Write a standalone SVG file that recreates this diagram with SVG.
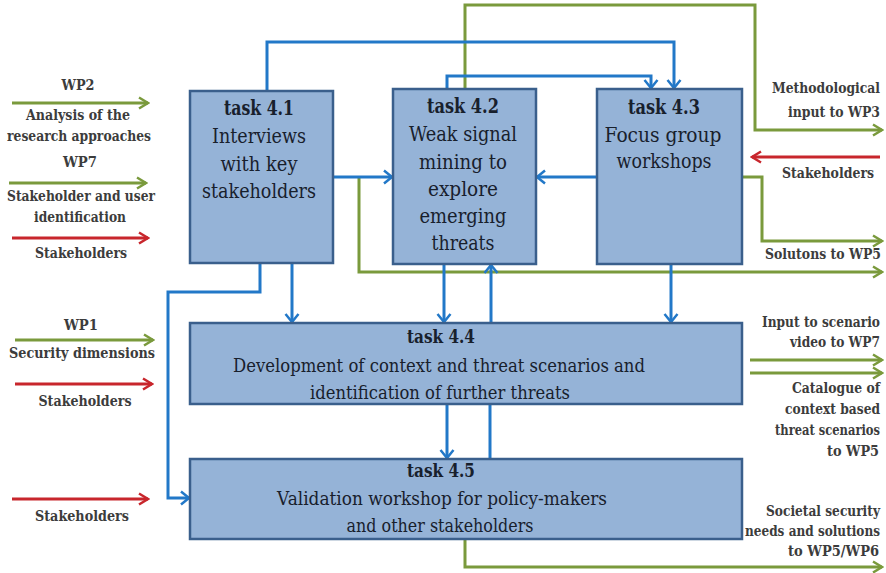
<svg xmlns="http://www.w3.org/2000/svg" width="886" height="573" viewBox="0 0 886 573">
  <style>
    .box { fill: #95b3d7; stroke: #3a5f8c; stroke-width: 2.5; }
    text { font-family: "DejaVu Serif", serif; }
    .bt { font-size: 20px; fill: #18202c; text-anchor: middle; }
    .bt2 { font-size: 19px; fill: #18202c; text-anchor: middle; }
    .tt { font-weight: bold; }
    .lbl { font-size: 15px; font-weight: bold; fill: #3c3c3c; }
    .mid { text-anchor: middle; }
    .end { text-anchor: end; }
    .blue { fill: none; stroke: #2278c8; stroke-width: 3; }
    .green { fill: none; stroke: #7a9a3c; stroke-width: 3; }
    .red { fill: none; stroke: #c8262c; stroke-width: 3; }
  </style>
  <defs>
    <marker id="ab" viewBox="-11 -8 13 16" refX="0" refY="0" markerWidth="13" markerHeight="16" markerUnits="userSpaceOnUse" orient="auto">
      <path d="M-8,-6.5 L0,0 L-8,6.5" fill="none" stroke="#2278c8" stroke-width="2.5"/>
    </marker>
    <marker id="ag" viewBox="-11 -8 13 16" refX="0" refY="0" markerWidth="13" markerHeight="16" markerUnits="userSpaceOnUse" orient="auto">
      <path d="M-9,-5.5 L0,0 L-9,5.5" fill="none" stroke="#7a9a3c" stroke-width="2.5"/>
    </marker>
    <marker id="ar" viewBox="-11 -8 13 16" refX="0" refY="0" markerWidth="13" markerHeight="16" markerUnits="userSpaceOnUse" orient="auto">
      <path d="M-9,-5.5 L0,0 L-9,5.5" fill="none" stroke="#c8262c" stroke-width="2.5"/>
    </marker>
  </defs>

  <rect width="886" height="573" fill="#ffffff"/>

  <!-- connectors -->
  <g id="connectors">
    <!-- green outputs -->
    <path class="green" d="M465,89 V5 H755 V130 H882" marker-end="url(#ag)"/>
    <path class="green" d="M359,177 V272 H882" marker-end="url(#ag)"/>
    <path class="green" d="M742,177 H762 V241 H882" marker-end="url(#ag)"/>
    <path class="green" d="M465,539 V567 H882" marker-end="url(#ag)"/>
    <path class="green" d="M750,360 H882" marker-end="url(#ag)"/>
    <path class="green" d="M750,373 H882" marker-end="url(#ag)"/>
    <!-- green inputs -->
    <path class="green" d="M12,103 H148" marker-end="url(#ag)"/>
    <path class="green" d="M9,183 H146" marker-end="url(#ag)"/>
    <path class="green" d="M15,340 H153" marker-end="url(#ag)"/>
    <!-- red stakeholder inputs -->
    <path class="red" d="M12,238 H148" marker-end="url(#ar)"/>
    <path class="red" d="M15,384 H152" marker-end="url(#ar)"/>
    <path class="red" d="M12,499 H148" marker-end="url(#ar)"/>
    <path class="red" d="M880,157 H752" marker-end="url(#ar)"/>
    <!-- blue task links -->
    <path class="blue" d="M267,91 V42 H674 V88" marker-end="url(#ab)"/>
    <path class="blue" d="M447,89 V76 H651 V88" marker-end="url(#ab)"/>
    <path class="blue" d="M333,177 H392" marker-end="url(#ab)"/>
    <path class="blue" d="M597,177 H537" marker-end="url(#ab)"/>
    <path class="blue" d="M260,263 V292 H168 V498 H189" marker-end="url(#ab)"/>
    <path class="blue" d="M292,263 V322" marker-end="url(#ab)"/>
    <path class="blue" d="M444,264 V322" marker-end="url(#ab)"/>
    <path class="blue" d="M491,323 V265" marker-end="url(#ab)"/>
    <path class="blue" d="M671,264 V322" marker-end="url(#ab)"/>
    <path class="blue" d="M447,404 V458" marker-end="url(#ab)"/>
    <path class="blue" d="M490,459 V404"/>
  </g>

  <g id="tasks">
    <g id="task41">
      <rect class="box" x="190" y="91" width="143" height="172"/>
      <text class="bt tt" x="259" y="115" textLength="70" lengthAdjust="spacingAndGlyphs">task 4.1</text>
      <text class="bt" x="259" y="143" textLength="94" lengthAdjust="spacingAndGlyphs">Interviews</text>
      <text class="bt" x="259" y="171" textLength="77" lengthAdjust="spacingAndGlyphs">with key</text>
      <text class="bt" x="259" y="198" textLength="114" lengthAdjust="spacingAndGlyphs">stakeholders</text>
    </g>
    <g id="task42">
      <rect class="box" x="393" y="89" width="143" height="175"/>
      <text class="bt tt" x="463" y="113" textLength="72" lengthAdjust="spacingAndGlyphs">task 4.2</text>
      <text class="bt" x="463" y="141" textLength="108" lengthAdjust="spacingAndGlyphs">Weak signal</text>
      <text class="bt" x="463" y="169" textLength="88" lengthAdjust="spacingAndGlyphs">mining to</text>
      <text class="bt" x="463" y="196" textLength="70" lengthAdjust="spacingAndGlyphs">explore</text>
      <text class="bt" x="463" y="223" textLength="87" lengthAdjust="spacingAndGlyphs">emerging</text>
      <text class="bt" x="463" y="250" textLength="63" lengthAdjust="spacingAndGlyphs">threats</text>
    </g>
    <g id="task43">
      <rect class="box" x="597" y="89" width="145" height="175"/>
      <text class="bt tt" x="664" y="114" textLength="72" lengthAdjust="spacingAndGlyphs">task 4.3</text>
      <text class="bt" x="663" y="142" textLength="117" lengthAdjust="spacingAndGlyphs">Focus group</text>
      <text class="bt" x="664" y="168" textLength="95" lengthAdjust="spacingAndGlyphs">workshops</text>
    </g>
    <g id="task44">
      <rect class="box" x="190" y="323" width="552" height="81"/>
      <text class="bt2 tt" x="441" y="343" textLength="68" lengthAdjust="spacingAndGlyphs">task 4.4</text>
      <text class="bt2" x="439" y="372" textLength="412" lengthAdjust="spacingAndGlyphs">Development of context and threat scenarios and</text>
      <text class="bt2" x="440" y="399" textLength="260" lengthAdjust="spacingAndGlyphs">identification of further threats</text>
    </g>
    <g id="task45">
      <rect class="box" x="190" y="459" width="552" height="80"/>
      <text class="bt2 tt" x="441" y="477" textLength="68" lengthAdjust="spacingAndGlyphs">task 4.5</text>
      <text class="bt2" x="442" y="505" textLength="330" lengthAdjust="spacingAndGlyphs">Validation workshop for policy-makers</text>
      <text class="bt2" x="440" y="532" textLength="187" lengthAdjust="spacingAndGlyphs">and other stakeholders</text>
    </g>
  </g>

  <!-- external inputs -->
  <g id="inputs-left">
    <text class="lbl mid" x="78" y="90" textLength="33" lengthAdjust="spacingAndGlyphs">WP2</text>
    <text class="lbl mid" x="78" y="120" textLength="104" lengthAdjust="spacingAndGlyphs">Analysis of the</text>
    <text class="lbl mid" x="79" y="141" textLength="144" lengthAdjust="spacingAndGlyphs">research approaches</text>
    <text class="lbl mid" x="80" y="167" textLength="34" lengthAdjust="spacingAndGlyphs">WP7</text>
    <text class="lbl mid" x="81" y="201" textLength="148" lengthAdjust="spacingAndGlyphs">Stakeholder and user</text>
    <text class="lbl mid" x="80" y="222" textLength="92" lengthAdjust="spacingAndGlyphs">identification</text>
    <text class="lbl mid" x="81" y="258" textLength="92" lengthAdjust="spacingAndGlyphs">Stakeholders</text>
    <text class="lbl mid" x="81" y="330" textLength="34" lengthAdjust="spacingAndGlyphs">WP1</text>
    <text class="lbl mid" x="82" y="358" textLength="146" lengthAdjust="spacingAndGlyphs">Security dimensions</text>
    <text class="lbl mid" x="85" y="406" textLength="93" lengthAdjust="spacingAndGlyphs">Stakeholders</text>
    <text class="lbl mid" x="82" y="521" textLength="94" lengthAdjust="spacingAndGlyphs">Stakeholders</text>
  </g>

  <!-- external outputs -->
  <g id="outputs-right">
    <text class="lbl end" x="880" y="93" textLength="108" lengthAdjust="spacingAndGlyphs">Methodological</text>
    <text class="lbl end" x="880" y="117" textLength="92" lengthAdjust="spacingAndGlyphs">input to WP3</text>
    <text class="lbl mid" x="828" y="178" textLength="92" lengthAdjust="spacingAndGlyphs">Stakeholders</text>
    <text class="lbl end" x="881" y="259" textLength="116" lengthAdjust="spacingAndGlyphs">Solutons to WP5</text>
    <text class="lbl end" x="880" y="327" textLength="118" lengthAdjust="spacingAndGlyphs">Input to scenario</text>
    <text class="lbl end" x="880" y="347" textLength="90" lengthAdjust="spacingAndGlyphs">video to WP7</text>
    <text class="lbl end" x="880" y="393" textLength="88" lengthAdjust="spacingAndGlyphs">Catalogue of</text>
    <text class="lbl end" x="880" y="414" textLength="95" lengthAdjust="spacingAndGlyphs">context based</text>
    <text class="lbl end" x="880" y="435" textLength="105" lengthAdjust="spacingAndGlyphs">threat scenarios</text>
    <text class="lbl end" x="879" y="456" textLength="52" lengthAdjust="spacingAndGlyphs">to WP5</text>
    <text class="lbl end" x="880" y="516" textLength="114" lengthAdjust="spacingAndGlyphs">Societal security</text>
    <text class="lbl end" x="880" y="536" textLength="135" lengthAdjust="spacingAndGlyphs">needs and solutions</text>
    <text class="lbl end" x="879" y="556" textLength="91" lengthAdjust="spacingAndGlyphs">to WP5/WP6</text>
  </g>
</svg>
